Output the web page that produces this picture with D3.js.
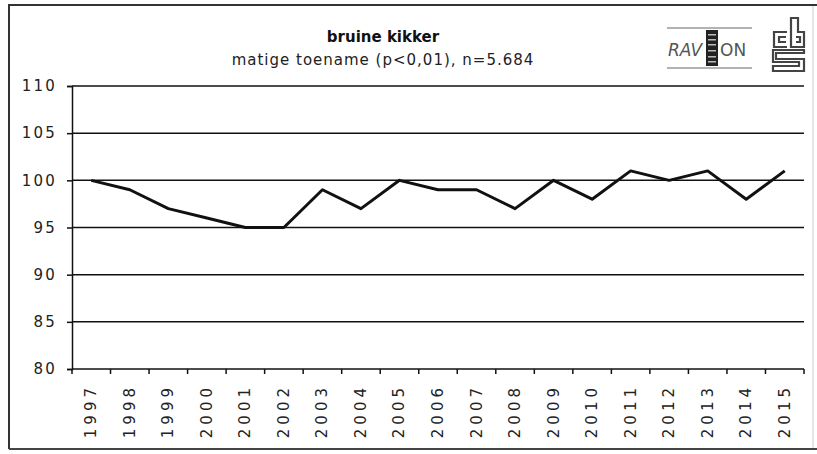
<!DOCTYPE html>
<html>
<head>
<meta charset="utf-8">
<script src="https://cdn.jsdelivr.net/npm/d3@7"></script>
<style>
  body { margin: 0; background: #fff; }
  text { font-family: "DejaVu Sans", Verdana, sans-serif; }
</style>
</head>
<body>
<div id="chart"></div>
<script>
var years = ['1997', '1998', '1999', '2000', '2001', '2002', '2003', '2004', '2005', '2006',
  '2007', '2008', '2009', '2010', '2011', '2012', '2013', '2014', '2015'];
var index = [100, 99, 97, 96, 95, 95, 99, 97, 100, 99, 99, 97, 100, 98, 101, 100, 101, 98, 101];
var yTicks = [80, 85, 90, 95, 100, 105, 110];
var title = 'bruine kikker';
var subtitle = 'matige toename (p<0,01), n=5.684';

var W = 817, H = 454;
var pL = 72, pR = 804, pT = 86, pB = 369;

var svg = d3.select('#chart').append('svg')
  .attr('width', W).attr('height', H);

// frame
svg.append('rect').attr('x', 9).attr('y', 5).attr('width', 804).attr('height', 444)
  .attr('fill', 'none').attr('stroke', '#ccc').attr('stroke-width', 1);
svg.append('path').attr('d', 'M9,449V5H817').attr('fill', 'none')
  .attr('stroke', '#333').attr('stroke-width', 2);
svg.append('path').attr('d', 'M9,449H817').attr('fill', 'none')
  .attr('stroke', '#444').attr('stroke-width', 2);

var x = d3.scaleBand().domain(years).range([pL, pR]);
var y = d3.scaleLinear().domain([80, 110]).range([pB, pT]);

// gridlines
svg.append('g').selectAll('line')
  .data(yTicks.filter(d => d > 80))
  .enter().append('line')
  .attr('x1', pL).attr('x2', pR)
  .attr('y1', d => y(d)).attr('y2', d => y(d))
  .attr('stroke', '#111').attr('stroke-width', 1.5);

// y axis
var yAxis = svg.append('g').attr('transform', 'translate(' + pL + ',0)')
  .call(d3.axisLeft(y).tickValues(yTicks).tickSize(5).tickPadding(10));
yAxis.select('.domain').attr('stroke', '#111').attr('stroke-width', 1.5);
yAxis.selectAll('.tick line').attr('stroke', '#111').attr('stroke-width', 1.5);
yAxis.selectAll('text').attr('font-size', 15).attr('fill', '#222')
  .attr('letter-spacing', 2.2)
  .attr('font-family', '"DejaVu Sans", Verdana, sans-serif');

// x axis with ticks between categories
var xAxis = svg.append('g').attr('transform', 'translate(0,' + pB + ')');
xAxis.append('line').attr('x1', pL).attr('x2', pR)
  .attr('stroke', '#111').attr('stroke-width', 1.5);
xAxis.selectAll('line.tk')
  .data(years.concat(['end']))
  .enter().append('line').attr('class', 'tk')
  .attr('x1', (d, i) => i < years.length ? x(d) : pR)
  .attr('x2', (d, i) => i < years.length ? x(d) : pR)
  .attr('y1', 0).attr('y2', 5)
  .attr('stroke', '#111').attr('stroke-width', 1.5);
xAxis.selectAll('text')
  .data(years)
  .enter().append('text')
  .attr('transform', d => 'translate(' + (x(d) + x.bandwidth() / 2 + 5) + ',15) rotate(-90)')
  .attr('text-anchor', 'end')
  .attr('font-size', 15)
  .attr('letter-spacing', 4)
  .attr('fill', '#222')
  .text(d => d);

// series line
var line = d3.line()
  .x((d, i) => x(years[i]) + x.bandwidth() / 2)
  .y(d => y(d));
svg.append('path').datum(index)
  .attr('d', line)
  .attr('fill', 'none')
  .attr('stroke', '#111')
  .attr('stroke-width', 3)
  .attr('stroke-linejoin', 'round');

// titles
svg.append('text').attr('x', 383).attr('y', 42).attr('text-anchor', 'middle')
  .attr('font-size', 15).attr('font-weight', 'bold').attr('fill', '#111').text(title);
svg.append('text').attr('x', 383).attr('y', 65).attr('text-anchor', 'middle')
  .attr('font-size', 15).attr('letter-spacing', 1).attr('fill', '#222').text(subtitle);

// RAVON logo
var rav = svg.append('g');
rav.append('line').attr('x1', 667).attr('x2', 752).attr('y1', 28).attr('y2', 28)
  .attr('stroke', '#999').attr('stroke-width', 1.5);
rav.append('line').attr('x1', 667).attr('x2', 752).attr('y1', 68).attr('y2', 68)
  .attr('stroke', '#999').attr('stroke-width', 1.5);
rav.append('text').attr('x', 668).attr('y', 56).attr('font-size', 17)
  .attr('font-style', 'italic').attr('font-family', '"Liberation Sans", sans-serif')
  .attr('fill', '#555').text('RAV');
rav.append('rect').attr('x', 706).attr('y', 30).attr('width', 12).attr('height', 36)
  .attr('fill', '#222');
rav.selectAll('rect.d').data([34, 39, 44, 50, 56, 61]).enter().append('rect')
  .attr('class', 'd').attr('x', 708).attr('y', d => d).attr('width', 8).attr('height', 1.5)
  .attr('fill', '#bbb');
rav.append('text').attr('x', 720).attr('y', 56).attr('font-size', 17)
  .attr('font-family', '"Liberation Sans", sans-serif')
  .attr('fill', '#555').text('ON');

// CBS logo (approximation)
var cbs = svg.append('g').attr('fill', 'none').attr('stroke', '#444').attr('stroke-width', 2.2);
cbs.append('path').attr('d', 'M787,32H774V47H787');
cbs.append('path').attr('d', 'M786,37H779V42H786');
cbs.append('path').attr('d', 'M793,18H798V32H804V47H791V18Z');
cbs.append('path').attr('d', 'M796,37H800V42H796');
cbs.append('path').attr('d', 'M773,50H804V53H776V59H804V71H773V66H799V62H773Z');
</script>
</body>
</html>
